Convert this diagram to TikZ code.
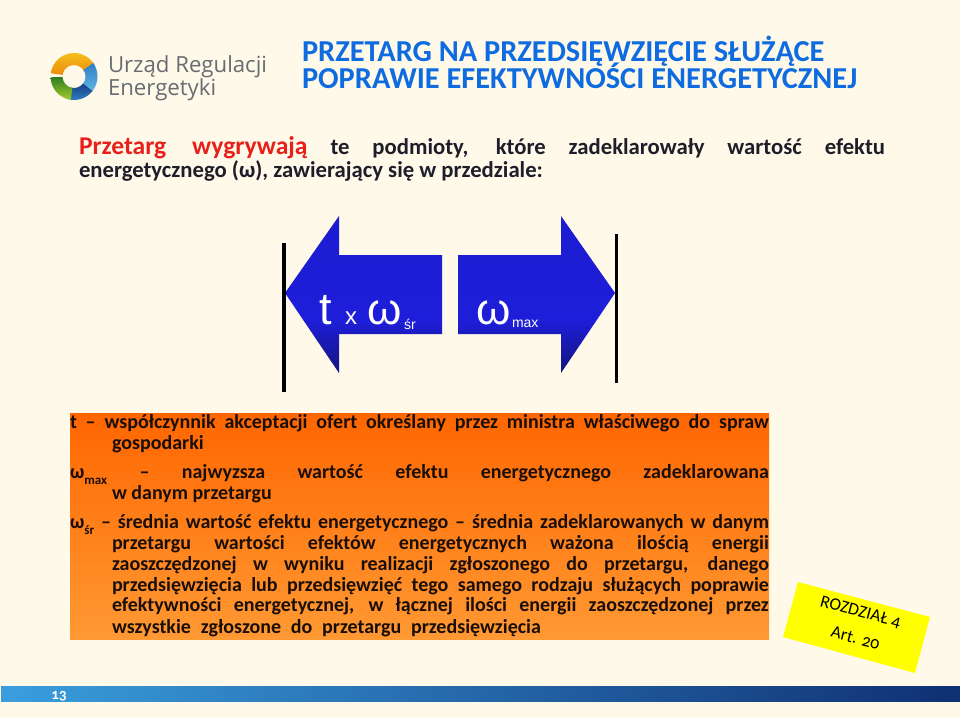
\documentclass[tikz,border=0pt]{standalone}
\usepackage{fontspec}
\setmainfont{Carlito}
\newfontfamily\arialf{Liberation Sans}
\newfontfamily\logof{Open Sans}
\newfontfamily\oldf[Numbers=OldStyle]{Carlito}
\definecolor{bgc}{HTML}{FFF9EA}
\definecolor{titleblue}{HTML}{0F6BE0}
\definecolor{redt}{HTML}{E8201A}
\definecolor{darktxt}{HTML}{1E1E2A}
\definecolor{bodytxt}{HTML}{1A0E08}
\definecolor{logogray}{HTML}{666C70}
\definecolor{tagyellow}{HTML}{FFFF00}
\definecolor{arrtop}{HTML}{1C1CD0}
\definecolor{arrmid}{HTML}{1E1EDA}
\definecolor{arrbot}{HTML}{14147E}
\pgfdeclareverticalshading{arrgrad}{100bp}{color(0bp)=(arrbot); color(25bp)=(arrbot); color(42bp)=(arrmid); color(75bp)=(arrtop); color(100bp)=(arrtop)}
\newcommand{\sbs}[1]{\raisebox{-0.32em}{\fontsize{13}{13}\selectfont #1}}
\newcommand{\ringseg}[5]{\path[left color=#4,right color=#5,shading angle=#3] (#1:23.5) arc[start angle=#1,end angle=#2,radius=23.5] -- (#2:11.5) arc[start angle=#2,end angle=#1,radius=11.5] -- cycle;}
\tikzset{
 ln/.style={anchor=base west,inner sep=0pt,outer sep=0pt},
 body/.style={ln,text=bodytxt,font=\fontsize{20}{20}\selectfont\bfseries},
 lead/.style={ln,text=darktxt,font=\fontsize{22.7}{23}\selectfont\bfseries},
 titl/.style={ln,text=titleblue,font=\fontsize{30.4}{30}\selectfont\bfseries},
 logot/.style={ln,text=logogray,font=\logof\fontsize{22.2}{22}\selectfont},
 bluearrow/.style={shading=arrgrad},
 stopbar/.style={line width=3.6pt,black},
 arrt/.style={ln,text=white,font=\arialf},
 tagt/.style={rotate=-15,text=black,font=\oldf\fontsize{17.5}{18}\selectfont,inner sep=0pt},
}
\begin{document}
\begin{tikzpicture}[x=1pt,y=-1pt]
\useasboundingbox (0,0) rectangle (960,718);
\fill[bgc] (0,0) rectangle (960,718);
% logo
\begin{scope}[shift={(74,76.5)},x=1pt,y=1pt]
\definecolor{c1}{HTML}{F2C31C}\definecolor{c2}{HTML}{F08A0C}
\definecolor{c3}{HTML}{5FB6E6}\definecolor{c4}{HTML}{2F7FC4}
\definecolor{c5}{HTML}{173F86}\definecolor{c6}{HTML}{2F86C6}
\definecolor{c7}{HTML}{2F7D22}\definecolor{c8}{HTML}{A4CC2C}
\ringseg{172}{25}{0}{c1}{c2}
\ringseg{35}{-40}{0}{c4}{c3}
\ringseg{-38}{-105}{0}{c5}{c6}
\ringseg{182}{262}{0}{c7}{c8}
\end{scope}
\node[logot] (logoa) at (108,72) {Urząd Regulacji};
\node[logot] (logob) at (108,95) {Energetyki};
% title
\node[titl] (title1) at (302,61.5) {PRZETARG NA PRZEDSIĘWZIĘCIE SŁUŻĄCE};
\node[titl] (title2) at (302,88) {POPRAWIE EFEKTYWNOŚCI ENERGETYCZNEJ};
% lead
\node[lead] (lead1) at (79,154) {\makebox[806pt][s]{\textcolor{redt}{\fontsize{25.6}{25}\selectfont Przetarg wygrywają} te podmioty, które zadeklarowały wartość efektu}};
\node[lead] (lead2) at (79,177) {energetycznego (ω), zawierający się w przedziale:};
% arrows
\shade[bluearrow] (285,293) -- (339,216) -- (339,255) -- (442,255) -- (442,334) -- (339,334) -- (339,373) -- cycle;
\shade[bluearrow] (615,293) -- (561,216) -- (561,255) -- (458,255) -- (458,334) -- (561,334) -- (561,373) -- cycle;
\coordinate (la) at (284,243); \coordinate (lb) at (284,392);
\coordinate (ra) at (616.5,234); \coordinate (rb) at (616.5,383);
\draw[stopbar] (la) -- (lb);
\draw[stopbar] (ra) -- (rb);
\node[arrt,font=\arialf\fontsize{45}{45}\selectfont] (tt) at (319,324.5) {t};
\node[arrt,font=\arialf\fontsize{24}{24}\selectfont] (xx) at (345,324.5) {x};
\node[arrt,font=\arialf\fontsize{44}{44}\selectfont] (w1) at (367,324.5) {ω};
\node[arrt,font=\arialf\fontsize{14}{14}\selectfont] (sr) at (404,329) {śr};
\node[arrt,font=\arialf\fontsize{44}{44}\selectfont] (w2) at (476,324.5) {ω};
\node[arrt,font=\arialf\fontsize{14}{14}\selectfont] (mx) at (512,327) {max};
% orange box
\shade[top color={rgb,255:red,255;green,102;blue,0},bottom color={rgb,255:red,255;green,153;blue,51}] (70,413) rectangle (769,639);
\node[body] (l1) at (70,428) {\makebox[699pt][s]{t – współczynnik akceptacji ofert określany przez ministra właściwego do spraw}};
\node[body] (l2) at (112,449) {gospodarki};
\node[body] (l3) at (70,478) {\makebox[699pt][s]{ω\sbs{max} – najwyzsza wartość efektu energetycznego zadeklarowana}};
\node[body] (l4) at (112,499) {w danym przetargu};
\node[body] (l5) at (70,528) {\makebox[699pt][s]{ω\sbs{śr} – średnia wartość efektu energetycznego – średnia zadeklarowanych w danym}};
\node[body] (l6) at (112,549) {\makebox[657pt][s]{przetargu wartości efektów energetycznych ważona ilością energii}};
\node[body] (l7) at (112,570) {\makebox[657pt][s]{zaoszczędzonej w wyniku realizacji zgłoszonego do przetargu, danego}};
\node[body] (l8) at (112,591) {\makebox[657pt][s]{przedsięwzięcia lub przedsięwzięć tego samego rodzaju służących poprawie}};
\node[body] (l9) at (112,611) {\makebox[657pt][s]{efektywności energetycznej, w łącznej ilości energii zaoszczędzonej przez}};
\node[body] (l10) at (112,633) {\makebox[429pt][s]{wszystkie zgłoszone do przetargu przedsięwzięcia}};
% yellow tag
\fill[tagyellow] (798,582) -- (930,617) -- (915,673) -- (783,637) -- cycle;
\node[tagt] (tag1) at (860.5,612) {ROZDZIAŁ 4};
\node[tagt] (tag2) at (855.5,638) {Art. 20};
% footer
\shade[left color={rgb,255:red,58;green,158;blue,222},middle color={rgb,255:red,35;green,110;blue,185},right color={rgb,255:red,15;green,48;blue,115}] (1,686) rectangle (960,701);
\node[anchor=base,text=white,font=\oldf\fontsize{15}{15}\selectfont\bfseries,inner sep=0pt] (pg) at (59,699) {13};
\end{tikzpicture}
\end{document}
